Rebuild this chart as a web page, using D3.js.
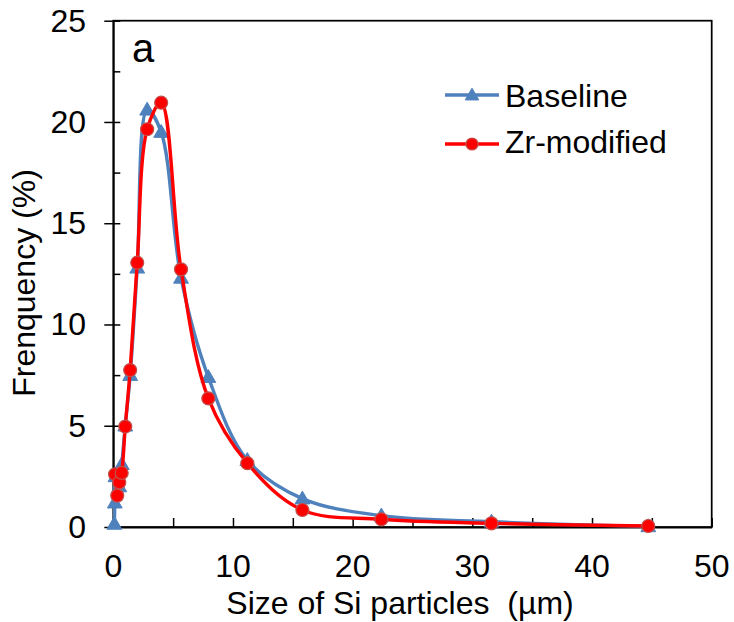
<!DOCTYPE html>
<html>
<head>
<meta charset="utf-8">
<script src="https://cdn.jsdelivr.net/npm/d3@7"></script>
<style>
  html, body { margin: 0; padding: 0; background: #fff; }
  svg { display: block; }
  text { font-family: "Liberation Sans", Arial, sans-serif; fill: #000; }
</style>
</head>
<body>
<svg id="chart" width="734" height="622"></svg>
<script>
// Particle size distribution of Si particles
const baselineX = [0.09, 0.125, 0.18, 0.5, 0.71, 1.0, 1.41, 2.0, 2.83, 4.0, 5.66, 7.94, 11.2, 15.8, 22.4, 31.6, 44.7];
const baselineY = [0.15, 1.2, 2.5, 2.0, 3.1, 5.0, 7.5, 12.8, 20.6, 19.5, 12.3, 7.4, 3.3, 1.4, 0.56, 0.26, 0.03];

const zrX = [0.15, 0.33, 0.5, 0.7, 1.0, 1.41, 2.0, 2.83, 4.0, 5.66, 7.94, 11.2, 15.8, 22.4, 31.6, 44.7];
const zrY = [2.6, 1.55, 2.2, 2.67, 4.96, 7.75, 13.05, 19.64, 20.95, 12.72, 6.35, 3.15, 0.84, 0.38, 0.18, 0.05];

const seriesNames = ["Baseline", "Zr-modified"];
const xTicks = [0, 10, 20, 30, 40, 50];
const yTicks = [0, 5, 10, 15, 20, 25];

const svg = d3.select("#chart");
const plotLeft = 113.3, plotRight = 711.7, plotTop = 20.7, plotBottom = 527;
const fontSize = 32;

const x = d3.scaleLinear().domain([0, 50]).range([plotLeft, plotRight]);
const y = d3.scaleLinear().domain([0, 25]).range([plotBottom, plotTop]);

const blue = "#4F81BD", red = "#FF0000";

// plot frame
svg.append("rect")
  .attr("x", plotLeft).attr("y", plotTop)
  .attr("width", plotRight - plotLeft).attr("height", plotBottom - plotTop)
  .attr("fill", "none").attr("stroke", "#000").attr("stroke-width", 1.75);

// x axis: inside ticks every 5, labels every 10
const xAxis = svg.append("g").attr("transform", `translate(0,${plotBottom})`)
  .call(d3.axisBottom(x).tickValues(d3.range(0, 51, 5)).tickSize(-9).tickSizeOuter(0).tickFormat(""));
xAxis.select(".domain").attr("stroke-width", 1.75);
xAxis.selectAll(".tick line").attr("stroke-width", 1.5);

svg.append("g").selectAll("text").data(xTicks).join("text")
  .attr("x", d => x(d)).attr("y", 577)
  .attr("text-anchor", "middle").attr("font-size", fontSize)
  .text(d => d);

// y axis: major ticks crossing, minor inside
const yMajor = svg.append("g").attr("transform", `translate(${plotLeft},0)`)
  .call(d3.axisLeft(y).tickValues(yTicks).tickSize(9).tickSizeOuter(0).tickFormat(""));
yMajor.select(".domain").attr("stroke-width", 1.75);
yMajor.selectAll(".tick line").attr("stroke-width", 1.5);
const yMinor = svg.append("g").attr("transform", `translate(${plotLeft},0)`)
  .call(d3.axisRight(y).tickValues(d3.range(0, 25.1, 2.5)).tickSize(7).tickSizeOuter(0).tickFormat(""));
yMinor.select(".domain").remove();
yMinor.selectAll(".tick line").attr("stroke-width", 1.5);

svg.append("g").selectAll("text").data(yTicks).join("text")
  .attr("x", 86).attr("y", d => y(d) + 11)
  .attr("text-anchor", "end").attr("font-size", fontSize)
  .text(d => d);

// axis titles
svg.append("text")
  .attr("x", 400).attr("y", 614)
  .attr("text-anchor", "middle").attr("font-size", fontSize)
  .attr("xml:space", "preserve")
  .text("Size of Si particles  (µm)");

svg.append("text")
  .attr("transform", "translate(35,283) rotate(-90)")
  .attr("text-anchor", "middle").attr("font-size", fontSize)
  .text("Frenquency (%)");

// panel label
svg.append("text").attr("x", 132).attr("y", 62).attr("font-size", 40).text("a");

const line = d3.line()
  .x(d => x(d[0])).y(d => y(d[1]))
  .curve(d3.curveCatmullRom.alpha(0.5));

const tri = d3.symbol().type(d3.symbolTriangle);

// Baseline series
const bData = d3.zip(baselineX, baselineY);
svg.append("path").datum(bData)
  .attr("d", line).attr("fill", "none")
  .attr("stroke", blue).attr("stroke-width", 3.4);
svg.append("g").selectAll("path").data(bData).join("path")
  .attr("transform", d => `translate(${x(d[0])},${y(d[1]) + 1})`)
  .attr("d", tri.size(95)())
  .attr("fill", blue).attr("stroke", blue).attr("stroke-width", 1);

// Zr-modified series
const zData = d3.zip(zrX, zrY);
svg.append("path").datum(zData)
  .attr("d", line).attr("fill", "none")
  .attr("stroke", red).attr("stroke-width", 3.4);
svg.append("g").selectAll("circle").data(zData).join("circle")
  .attr("cx", d => x(d[0])).attr("cy", d => y(d[1]))
  .attr("r", 6.5)
  .attr("fill", red).attr("stroke", "#C0504D").attr("stroke-width", 1.2);

// legend
const legend = svg.append("g");
const legY = [95, 144];
const legTextY = [107, 153];
legend.selectAll("line").data(seriesNames).join("line")
  .attr("x1", 445).attr("x2", 499)
  .attr("y1", (d, i) => legY[i]).attr("y2", (d, i) => legY[i])
  .attr("stroke", (d, i) => i ? red : blue).attr("stroke-width", 3.4);
legend.append("path")
  .attr("transform", `translate(472,${legY[0] + 1})`)
  .attr("d", tri.size(80)())
  .attr("fill", blue).attr("stroke", blue);
legend.append("circle")
  .attr("cx", 472).attr("cy", legY[1]).attr("r", 6)
  .attr("fill", red).attr("stroke", "#C0504D").attr("stroke-width", 1.2);
legend.selectAll("text").data(seriesNames).join("text")
  .attr("x", 505).attr("y", (d, i) => legTextY[i])
  .attr("font-size", fontSize)
  .text(d => d);
</script>
</body>
</html>
